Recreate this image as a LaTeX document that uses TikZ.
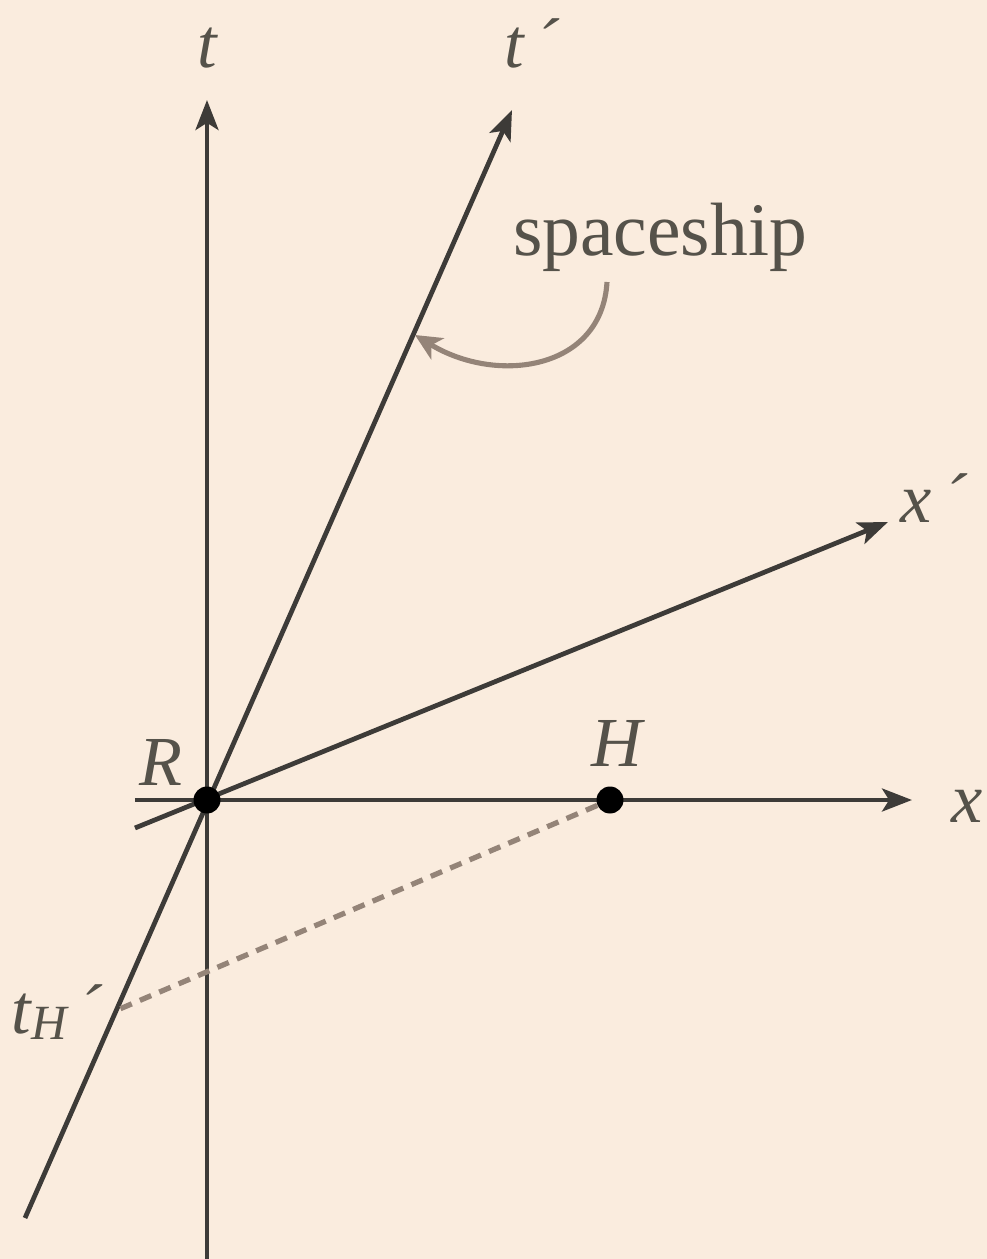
\documentclass[tikz,border=0pt]{standalone}
\usepackage{fontspec}
\setmainfont{Liberation Serif}
\usepackage{tikz}
\usetikzlibrary{arrows.meta}
\definecolor{paper}{HTML}{FAECDE}
\definecolor{ink}{HTML}{3D3B38}
\definecolor{labelgray}{HTML}{55524A}
\definecolor{notegray}{HTML}{948478}
\tikzstyle{axis} = [line width=2.7pt, draw=ink, -{Stealth[length=17pt,width=13pt,inset=4pt]}]
\tikzstyle{event} = [circle, fill=black, inner sep=0pt, minimum size=0.54cm]
\tikzstyle{lbl} = [text=labelgray, font=\fontsize{40}{46}\selectfont\itshape, inner sep=0pt]
\tikzstyle{note} = [line width=2.9pt, draw=notegray, -{Stealth[length=15pt,width=14pt,inset=4pt]}]

\begin{document}
\begin{tikzpicture}[x=0.02cm, y=0.02cm]
\fill[paper] (-207,-459) rectangle (780,800);
\useasboundingbox (-207,-459) rectangle (780,800);

% axes of the rest frame
\coordinate (tlow) at (0,-459);
\coordinate (ttop) at (0,700);
\coordinate (xleft) at (-72,0);
\coordinate (xright) at (705,0);
% axes of the spaceship
\coordinate (tplow) at (-182,-418);
\coordinate (tptop) at (305,690);
\coordinate (xpleft) at (-72,-28);
\coordinate (xpright) at (681,278);
\coordinate (tH) at (-92,-211);

\draw [axis] (tlow) -- (ttop);
\draw [axis] (xleft) -- (xright);
\draw [axis] (tplow) -- (tptop);
\draw [axis] (xpleft) -- (xpright);

\node (R) [event] at (0,0) {};
\node (H) [event] at (403,0) {};
\draw [line width=3pt, draw=notegray, dash pattern=on 7pt off 5pt] (H) -- (tH);

\node (tlabel) [lbl] at (0,752) {t};
\node (tplabel) [lbl] at (325,757) {t\,´};
\node (xplabel) [lbl] at (727,302) {x\,´};
\node (xlabel) [lbl] at (760,-6) {x};
\node (Rlabel) [lbl] at (-46,38) {R};
\node (Hlabel) [lbl] at (410,57) {H};
\node (tHlabel) [lbl] at (-150,-212) {t{\fontsize{28}{30}\selectfont\raisebox{-0.3ex}{H}}\,´};
\node (ship) [text=labelgray, font=\fontsize{43}{50}\selectfont, inner sep=0pt] at (453,563) {spaceship};

\coordinate (shipfoot) at (400,518);
\coordinate (shiptip) at (208,465);
\draw [note] (shipfoot) .. controls (395,430) and (290,415) .. (shiptip);
\end{tikzpicture}
\end{document}
